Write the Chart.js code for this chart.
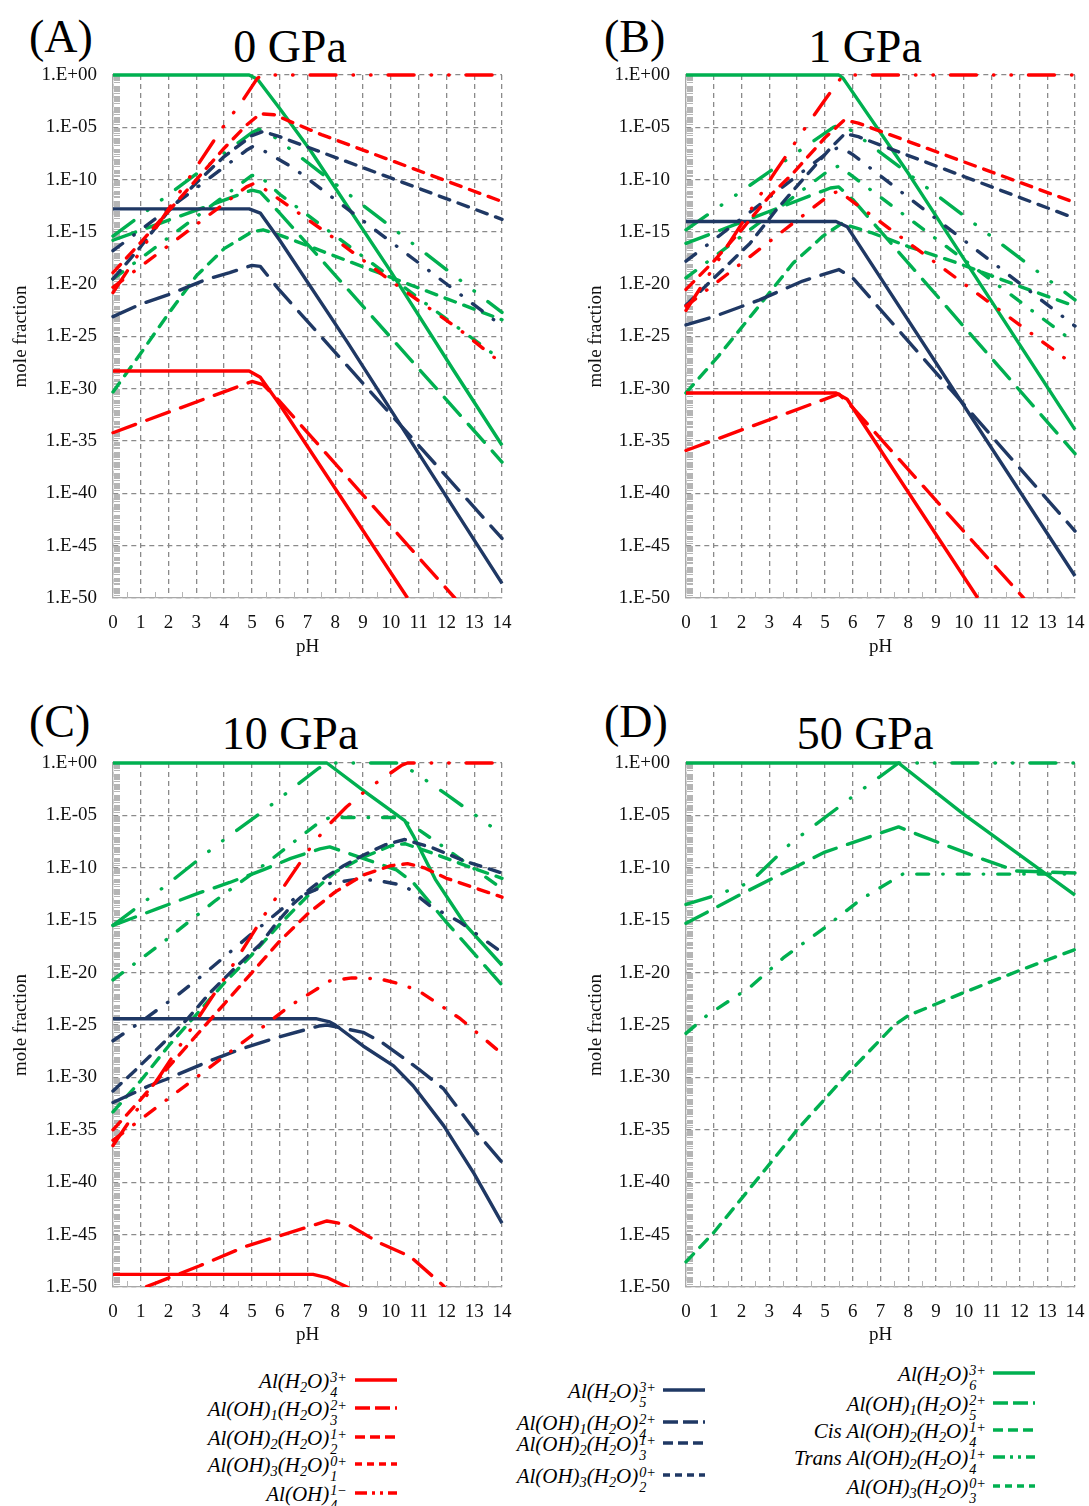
<!DOCTYPE html>
<html>
<head>
<meta charset="utf-8">
<script src="https://cdn.jsdelivr.net/npm/chart.js@4.4.1/dist/chart.umd.min.js"></script>
<style>
  html, body { margin: 0; padding: 0; background: #fff; }
  #page { position: relative; width: 1089px; height: 1506px; overflow: hidden; font-family: 'Liberation Serif', 'DejaVu Serif', serif; }
  canvas { position: absolute; }
  .ttl { position: absolute; font-size: 46px; line-height: 46px; color: #000; white-space: nowrap; }
  .lg { position: absolute; font: italic 21px 'Liberation Serif', serif; color: #000; white-space: nowrap; transform: translate(-100%, -50%); }
  .lg sub { font-size: 0.68em; vertical-align: -0.3em; line-height: 0; }
  .ss { display: inline-block; vertical-align: -0.62em; font-size: 0.68em; line-height: 1.05; margin-left: 1px; }
  .ss span { display: block; }
  .sw { position: absolute; }
</style>
</head>
<body>
<div id="page">
  <div class="ttl" style="left:29px;top:14px">(A)</div>
  <div class="ttl" style="left:190px;top:24px;width:200px;text-align:center">0 GPa</div>
  <div class="ttl" style="left:604px;top:14px">(B)</div>
  <div class="ttl" style="left:765px;top:24px;width:200px;text-align:center">1 GPa</div>
  <div class="ttl" style="left:29px;top:699px">(C)</div>
  <div class="ttl" style="left:190px;top:711px;width:200px;text-align:center">10 GPa</div>
  <div class="ttl" style="left:604px;top:699px">(D)</div>
  <div class="ttl" style="left:765px;top:711px;width:200px;text-align:center">50 GPa</div>

  <canvas id="pA" width="530" height="612" style="left:0px;top:55px"></canvas>
  <canvas id="pB" width="514" height="612" style="left:575px;top:55px"></canvas>
  <canvas id="pC" width="530" height="612" style="left:0px;top:743px"></canvas>
  <canvas id="pD" width="514" height="612" style="left:575px;top:743px"></canvas>
</div>
<script>
// tick exponents of the mole fraction axis
const yTickExp = [0, -5, -10, -15, -20, -25, -30, -35, -40, -45, -50]

// each series: [pH, log10(mole fraction)]
// (A) 0 GPa
const A_r1 = [[0,-28.3],[4.9,-28.3],[5.3,-28.9],[6,-31.5],[10.6,-50]]
const A_r2 = [[0,-34.2],[5,-29.3],[5.4,-29.6],[6,-31.2],[12.3,-50]]
const A_r3 = [[0,-20.3],[2.2,-15.9],[4.8,-10.7],[5.05,-10.4],[5.4,-10.8],[7.8,-15.3],[10,-19.7],[12.5,-24.4],[14,-27.6]]
const A_r4 = [[0,-18.9],[1,-16],[2,-13],[3,-10],[4,-7],[4.8,-4.8],[5.3,-3.7],[5.8,-3.8],[7.5,-5.7],[14,-12.1]]
const A_r5 = [[0,-20.8],[2.95,-9],[3.9,-5.2],[4.7,-2.3],[5.2,-0.3],[5.4,0],[14,0]]
const A_b1 = [[0,-12.8],[4.9,-12.8],[5.3,-13.2],[6,-15.8],[8.4,-25.4],[14,-48.6]]
const A_b2 = [[0,-23.1],[1,-21.9],[2,-21],[3.4,-19.5],[4.2,-18.9],[5,-18.2],[5.3,-18.3],[6,-20.6],[14,-44.3]]
const A_b3 = [[0,-16.8],[4.8,-7.2],[5.05,-6.8],[5.4,-7.2],[6.5,-8.9],[14,-24]]
const A_b4 = [[0,-19.5],[1,-16.4],[2,-13],[3,-10.3],[4,-7.8],[5,-5.8],[5.4,-5.4],[6,-5.9],[14,-13.8]]
const A_g1 = [[0,0],[4.9,0],[5.2,-0.4],[6,-3.2],[7.1,-7.2],[8,-10.8],[10,-18.8],[12.25,-28.2],[14,-35.4]]
const A_g2 = [[0,-15.8],[5,-11],[5.3,-11.2],[6,-13.2],[14,-37]]
const A_g3 = [[0,-19.5],[5,-9.6],[5.3,-9.7],[6,-11.4],[14,-27.3]]
const A_g4 = [[0,-15.4],[5,-5.5],[5.25,-5.2],[5.6,-5.5],[14,-22.7]]
const A_g5 = [[0,-30.3],[1,-26.6],[2,-22.8],[3,-19.2],[4,-16.6],[5,-15],[5.4,-14.8],[6,-15.3],[14,-23.4]]

// (B) 1 GPa
const B_r1 = [[0,-30.4],[5.4,-30.4],[5.8,-31],[10.5,-50]]
const B_r2 = [[0,-35.9],[5.5,-30.5],[6,-31.8],[12.15,-50]]
const B_r3 = [[0,-22.1],[5.2,-11.4],[5.5,-11.1],[6,-12.1],[14,-27.8]]
const B_r4 = [[0,-20.5],[1,-17.8],[2,-14.8],[3,-11.6],[3.85,-9.4],[5,-6],[5.7,-4.3],[6.2,-4.6],[14,-12.2]]
const B_r5 = [[0,-22.5],[3.2,-9.3],[4.2,-5.4],[4.94,-2.6],[5.6,-0.2],[5.7,0],[14,0]]
const B_b1 = [[0,-14],[5.4,-14],[5.8,-14.5],[14,-47.9]]
const B_b2 = [[0,-23.9],[1,-23.1],[2.65,-21.5],[4.2,-19.7],[5.5,-18.6],[6,-19.4],[14,-43.6]]
const B_b3 = [[0,-17.8],[5.2,-7.2],[5.55,-6.9],[6,-7.6],[14,-24]]
const B_b4 = [[0,-22],[2.3,-16.1],[3.25,-12.9],[4.2,-10],[5.2,-7],[5.72,-5.6],[6.2,-5.9],[14,-13.7]]
const B_g1 = [[0,0],[5.5,0],[5.65,-0.3],[8,-9.4],[14,-33.9]]
const B_g2 = [[0,-16.1],[5.2,-10.8],[5.5,-10.7],[6,-11.9],[14,-36.2]]
const B_g3 = [[0,-19.4],[5.2,-9],[5.5,-8.7],[6,-9.7],[14,-25.6]]
const B_g4 = [[0,-14.8],[5.3,-5],[5.6,-4.7],[6,-5.4],[14,-21.5]]
const B_g5 = [[0,-30.4],[1.16,-26.9],[2.5,-22.5],[3.85,-18],[4.93,-15.4],[5.6,-14.2],[6.7,-15.1],[8,-16.4],[9.8,-18],[12,-20.2],[14,-22.1]]

// (C) 10 GPa
const C_r1 = [[0,-48.8],[7.2,-48.8],[7.7,-49.1],[8.5,-50.1]]
const C_r2 = [[0,-51.2],[1.56,-49.6],[3.1,-48],[4.8,-46.1],[5.9,-45.2],[7.7,-43.7],[8.5,-44.1],[9.6,-45.8],[10.7,-47.1],[11.9,-49.9],[12.2,-51]]
const C_r3 = [[0,-36],[2.2,-31.6],[5,-26],[6.35,-23.2],[7.8,-20.8],[8.6,-20.5],[9.6,-20.6],[10.5,-21.2],[11.15,-22],[12.5,-24.4],[13.8,-27.3],[14,-27.6]]
const C_r4 = [[0,-35],[1,-32.1],[2,-29],[3,-26],[4,-23],[5,-20],[6,-17],[7,-14.4],[8,-12.3],[9,-10.7],[10,-9.8],[10.6,-9.6],[11.2,-10],[12,-11],[13,-11.9],[14,-12.8]]
const C_r5 = [[0,-36.5],[1.6,-30.2],[4,-20.6],[5.5,-14.3],[7.2,-7.7],[7.8,-5.8],[8.4,-4.2],[9.2,-2.4],[9.8,-1.3],[10.4,-0.2],[10.6,0],[14,0]]
const C_b1 = [[0,-24.4],[7.3,-24.4],[7.8,-24.7],[8,-25],[9,-27],[10.1,-28.9],[10.8,-30.8],[11.9,-34.6],[13,-39.2],[14,-43.9]]
const C_b2 = [[0,-32.4],[1.3,-30.8],[1.9,-30.2],[3.6,-28.3],[4.6,-27.3],[5.9,-26.2],[7.4,-25.1],[7.7,-25],[9,-25.7],[9.7,-26.7],[11,-29.2],[11.9,-31.1],[13,-35],[14,-38.1]]
const C_b3 = [[0,-26.5],[0.84,-25],[2.2,-22.4],[3.2,-20.3],[4.9,-16.5],[5.5,-15.2],[6.5,-13],[7.8,-11.5],[8.75,-11.1],[9.5,-11.2],[10.5,-11.7],[11.4,-13.6],[12.5,-15.2],[13.9,-17.9],[14,-18]]
const C_b4 = [[0,-31.3],[0.85,-29.2],[1.7,-27],[2.65,-24.5],[3.5,-21.9],[4.45,-19.4],[5.3,-17.3],[5.9,-15.2],[6.5,-13.4],[7.1,-12],[7.7,-10.8],[8.3,-9.8],[9,-8.8],[9.8,-7.8],[10.5,-7.3],[11.5,-8.1],[12.7,-9.4],[14,-10.5]]
const C_g1 = [[0,0],[7.7,0],[9.1,-2.8],[10.5,-5.5],[10.8,-6.9],[11.6,-11.1],[12.7,-15.5],[14,-19.3]]
const C_g2 = [[0,-15.5],[1.6,-13.9],[3.1,-12.4],[4.2,-11.4],[5.4,-10.2],[6.4,-9.1],[7.45,-8.2],[7.8,-8],[9,-9.1],[10.2,-10.2],[10.8,-11.4],[12,-15.2],[14,-21.2]]
const C_g3 = [[0,-20.7],[1.9,-16.9],[3.7,-13.1],[5.6,-9.4],[7.4,-5.7],[7.8,-5.2],[10.2,-5.2],[10.8,-6],[12,-8.2],[14,-12]]
const C_g4 = [[0,-15.5],[1.9,-11.7],[3.7,-7.9],[5.6,-4.2],[7.4,-0.5],[7.8,0],[10.2,0],[10.8,-0.8],[12,-3],[14,-6.8]]
const C_g5 = [[0,-33.3],[1,-30.3],[2,-27],[3,-24],[4,-21],[5,-18.3],[6,-15.4],[7,-12.7],[8,-10.4],[9,-9],[10,-7.9],[10.5,-7.7],[11.5,-8.6],[12.7,-9.8],[14,-11]]

// (D) 50 GPa
const D_g1 = [[0,0],[7.65,0],[10,-4.9],[14,-12.6]]
const D_g2 = [[0,-15.3],[2,-12.5],[5,-8.5],[7.65,-6.1],[8.7,-7.2],[10.7,-9.2],[11.9,-10.3],[14,-10.5]]
const D_g3 = [[0,-25.8],[0.75,-24.1],[2.3,-21.4],[3.5,-18.6],[5,-15.7],[6.3,-13],[7.8,-10.6],[14,-10.6]]
const D_g4 = [[0,-13.5],[1.1,-12.6],[2.3,-11.4],[3.75,-7.7],[6.15,-2.9],[7.65,0],[14,0]]
const D_g5 = [[0,-47.6],[1,-44.8],[3,-38.3],[4,-35],[5.8,-29.7],[7.5,-25],[8,-24.1],[10,-21.9],[12,-19.8],[14,-17.8]]

const RED = '#ff0000'
const BLUE = '#1f3864'
const GREEN = '#00b050'

const SOLID = []
const LONG = [24, 12]
const DASHDOT = [12, 14, 0.5, 14]
const SHORT = [11, 9]
const DASHDOTDOT = [26, 17, 0.5, 17, 0.5, 17]

const styles = {
    r1: { color: RED, dash: SOLID }, r2: { color: RED, dash: LONG }, r3: { color: RED, dash: DASHDOT },
    r4: { color: RED, dash: SHORT }, r5: { color: RED, dash: DASHDOTDOT },
    b1: { color: BLUE, dash: SOLID }, b2: { color: BLUE, dash: LONG }, b3: { color: BLUE, dash: DASHDOT },
    b4: { color: BLUE, dash: SHORT },
    g1: { color: GREEN, dash: SOLID }, g2: { color: GREEN, dash: LONG }, g3: { color: GREEN, dash: DASHDOT },
    g4: { color: GREEN, dash: DASHDOTDOT }, g5: { color: GREEN, dash: SHORT },
}

const fmtExp = (v) => {
    const e = Math.round(Math.log10(v))
    return '1.E' + (e >= 0 ? '+' : '-') + String(Math.abs(e)).padStart(2, '0')
}

// small log-minor marks on the y axis and half-pH marks on the x axis
const minorTicks = {
    id: 'minorTicks',
    beforeDatasetsDraw(chart) {
        const { ctx, chartArea: a, scales: { x, y } } = chart
        ctx.save()
        ctx.strokeStyle = '#b5b5b5'
        ctx.lineWidth = 1
        ctx.beginPath()
        for (let d = -50; d < 0; d++) {
            for (let k = 2; k < 10; k++) {
                const py = Math.round(y.getPixelForValue(k * Math.pow(10, d))) + 0.5
                ctx.moveTo(a.left + 1, py)
                ctx.lineTo(a.left + 7, py)
            }
        }
        for (let h = 0.5; h < 14; h += 1) {
            const px = Math.round(x.getPixelForValue(h)) + 0.5
            ctx.moveTo(px, a.bottom)
            ctx.lineTo(px, a.bottom - 6)
        }
        ctx.stroke()
        ctx.restore()
    }
}

const axisFont = { family: "'Liberation Serif', serif", size: 19 }

function makePanel(id, yWidth, rightPad, xHeight, series) {
    const datasets = series.map(([key, pts]) => ({
        data: pts.map(p => ({ x: p[0], y: Math.pow(10, p[1]) })),
        borderColor: styles[key].color,
        borderDash: styles[key].dash,
        borderWidth: 3.4,
        borderCapStyle: styles[key].dash.length ? 'round' : 'butt',
        borderJoinStyle: 'round',
        pointRadius: 0,
        fill: false,
        tension: 0,
        clip: { left: 2, top: 3, right: 2, bottom: 0 },
    }))

    const gridStyle = { color: '#8a8a8a', lineWidth: 1.3, drawTicks: false }
    const borderStyle = { display: true, color: '#a8a8a8', width: 1.3, dash: [5, 4] }

    const config = {
        type: 'line',
        data: { datasets: datasets },
        options: {
            responsive: false,
            animation: false,
            layout: { padding: { top: 20, right: rightPad, left: 0, bottom: 0 } },
            plugins: { legend: { display: false }, tooltip: { enabled: false } },
            scales: {
                x: {
                    type: 'linear', min: 0, max: 14,
                    ticks: { stepSize: 1, color: '#111', font: axisFont, padding: 14, maxRotation: 0 },
                    grid: gridStyle,
                    border: borderStyle,
                    title: { display: true, text: 'pH', color: '#111', font: axisFont, padding: { top: 0, bottom: 9 } },
                    afterFit: (s) => { s.height = xHeight; s.paddingLeft = 0; s.paddingRight = 0 },
                },
                y: {
                    type: 'logarithmic', min: 1e-50, max: 1,
                    afterBuildTicks: (s) => { s.ticks = yTickExp.map(e => ({ value: Math.pow(10, e) })) },
                    ticks: { callback: (v) => fmtExp(v), color: '#111', font: axisFont, padding: 16, autoSkip: false },
                    grid: gridStyle,
                    border: borderStyle,
                    title: { display: true, text: 'mole fraction', color: '#111', font: axisFont, padding: { top: 10 } },
                    afterFit: (s) => { s.width = yWidth; s.paddingTop = 0; s.paddingBottom = 0 },
                }
            }
        },
        plugins: [minorTicks]
    }
    return new Chart(document.getElementById(id), config)
}

makePanel('pA', 113, 28, 69, [
    ['r5', A_r5], ['r4', A_r4], ['r3', A_r3], ['r2', A_r2], ['r1', A_r1],
    ['b4', A_b4], ['b3', A_b3], ['b2', A_b2], ['b1', A_b1],
    ['g5', A_g5], ['g4', A_g4], ['g3', A_g3], ['g2', A_g2], ['g1', A_g1],
])
makePanel('pB', 111, 14, 69, [
    ['r5', B_r5], ['r4', B_r4], ['r3', B_r3], ['r2', B_r2], ['r1', B_r1],
    ['b4', B_b4], ['b3', B_b3], ['b2', B_b2], ['b1', B_b1],
    ['g5', B_g5], ['g4', B_g4], ['g3', B_g3], ['g2', B_g2], ['g1', B_g1],
])
makePanel('pC', 113, 28, 68, [
    ['r5', C_r5], ['r4', C_r4], ['r3', C_r3], ['r2', C_r2], ['r1', C_r1],
    ['b4', C_b4], ['b3', C_b3], ['b2', C_b2], ['b1', C_b1],
    ['g5', C_g5], ['g4', C_g4], ['g3', C_g3], ['g2', C_g2], ['g1', C_g1],
])
makePanel('pD', 111, 14, 68, [
    ['g5', D_g5], ['g4', D_g4], ['g3', D_g3], ['g2', D_g2], ['g1', D_g1],
])

// legend
const ss = (sup, sub) => `<span class="ss"><span>${sup}</span><span>${sub}</span></span>`
const H2O = 'H<sub>2</sub>O'
const redNames = [
    `Al(${H2O})${ss('3+', '4')}`,
    `Al(OH)<sub>1</sub>(${H2O})${ss('2+', '3')}`,
    `Al(OH)<sub>2</sub>(${H2O})${ss('1+', '2')}`,
    `Al(OH)<sub>3</sub>(${H2O})${ss('0+', '1')}`,
    `Al(OH)${ss('1&minus;', '4')}`,
]
const blueNames = [
    `Al(${H2O})${ss('3+', '5')}`,
    `Al(OH)<sub>1</sub>(${H2O})${ss('2+', '4')}`,
    `Al(OH)<sub>2</sub>(${H2O})${ss('1+', '3')}`,
    `Al(OH)<sub>3</sub>(${H2O})${ss('0+', '2')}`,
]
const greenNames = [
    `Al(${H2O})${ss('3+', '6')}`,
    `Al(OH)<sub>1</sub>(${H2O})${ss('2+', '5')}`,
    `Cis Al(OH)<sub>2</sub>(${H2O})${ss('1+', '4')}`,
    `Trans Al(OH)<sub>2</sub>(${H2O})${ss('1+', '4')}`,
    `Al(OH)<sub>3</sub>(${H2O})${ss('0+', '3')}`,
]

const swatchDash = {
    r1: '', r2: '15,5', r3: '10,5', r4: '7,5', r5: '12,5,3,5,3,5',
    b1: '', b2: '15,5', b3: '10,5', b4: '7,5',
    g1: '', g2: '15,5', g3: '10,5', g4: '12,5,3,5,3,5', g5: '7,5',
}

const legendCols = [
    { names: redNames, keys: ['r1', 'r2', 'r3', 'r4', 'r5'], textRight: 347, swX: 355, rows: [1380, 1408, 1437, 1464, 1493] },
    { names: blueNames, keys: ['b1', 'b2', 'b3', 'b4'], textRight: 656, swX: 663, rows: [1390, 1422, 1443, 1475] },
    { names: greenNames, keys: ['g1', 'g2', 'g3', 'g4', 'g5'], textRight: 986, swX: 993, rows: [1373, 1403, 1430, 1457, 1486] },
]

const page = document.getElementById('page')
legendCols.forEach(col => {
    col.names.forEach((name, i) => {
        const key = col.keys[i]
        const y = col.rows[i]
        const lab = document.createElement('div')
        lab.className = 'lg'
        lab.style.left = col.textRight + 'px'
        lab.style.top = (y + 4) + 'px'
        lab.innerHTML = name
        page.appendChild(lab)

        const svg = document.createElementNS('http://www.w3.org/2000/svg', 'svg')
        svg.setAttribute('class', 'sw')
        svg.setAttribute('width', '44')
        svg.setAttribute('height', '8')
        svg.style.left = col.swX + 'px'
        svg.style.top = (y - 4) + 'px'
        const ln = document.createElementNS('http://www.w3.org/2000/svg', 'line')
        ln.setAttribute('x1', '0'); ln.setAttribute('y1', '4')
        ln.setAttribute('x2', '42'); ln.setAttribute('y2', '4')
        ln.setAttribute('stroke', styles[key].color)
        ln.setAttribute('stroke-width', '3.5')
        if (swatchDash[key]) ln.setAttribute('stroke-dasharray', swatchDash[key])
        svg.appendChild(ln)
        page.appendChild(svg)
    })
})
</script>
</body>
</html>
